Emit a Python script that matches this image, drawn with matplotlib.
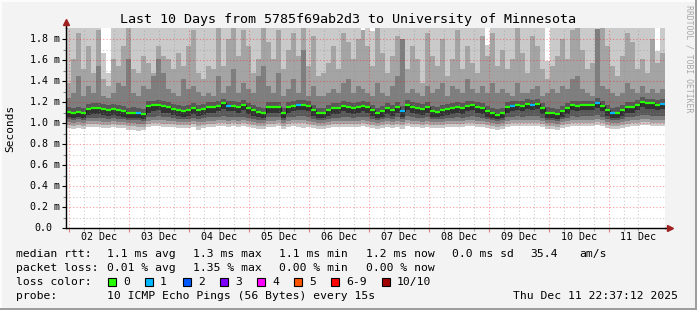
import numpy as np
import matplotlib.pyplot as plt
from matplotlib.patches import Rectangle
from matplotlib.lines import Line2D
from matplotlib.transforms import blended_transform_factory

plt.rcParams['font.family'] = ['DejaVu Sans Mono']

# time span in hours since Dec 1 00:00 (Dec 1 22:37:12 -> Dec 11 22:37:12), 2h steps
t_start = 22 + 37 / 60 + 12 / 3600
t_end = t_start + 240

# median rtt (ms) per 2h step
median = [
    1.105, 1.092, 1.105, 1.092, 1.130, 1.146, 1.140, 1.130, 1.120, 1.135,
    1.120, 1.110, 1.095, 1.100, 1.092, 1.083, 1.160, 1.168, 1.175, 1.160,
    1.150, 1.130, 1.120, 1.110, 1.120, 1.140, 1.120, 1.130, 1.150, 1.150,
    1.162, 1.187, 1.162, 1.162, 1.156, 1.170, 1.140, 1.120, 1.105, 1.092,
    1.156, 1.149, 1.156, 1.092, 1.156, 1.162, 1.175, 1.175, 1.162, 1.120,
    1.092, 1.092, 1.120, 1.143, 1.140, 1.162, 1.149, 1.143, 1.156, 1.162,
    1.156, 1.120, 1.092, 1.110, 1.140, 1.120, 1.149, 1.110, 1.175, 1.156,
    1.143, 1.130, 1.149, 1.110, 1.105, 1.120, 1.130, 1.143, 1.156, 1.143,
    1.162, 1.168, 1.149, 1.143, 1.110, 1.092, 1.080, 1.092, 1.149, 1.162,
    1.168, 1.162, 1.180, 1.175, 1.180, 1.143, 1.100, 1.092, 1.086, 1.110,
    1.143, 1.168, 1.162, 1.168, 1.168, 1.168, 1.190, 1.162, 1.120, 1.092,
    1.100, 1.120, 1.156, 1.156, 1.175, 1.200, 1.187, 1.187, 1.175, 1.180,
]

# sorted ping smoke (ms): p10 = slowest ... p1 = fastest
p10 = [
    1.95, 1.95, 1.95, 1.95, 1.95, 1.95, 1.95, 1.67, 1.48, 1.95,
    1.95, 1.95, 1.95, 1.95, 1.95, 1.95, 1.95, 1.95, 1.95, 1.95,
    1.95, 1.95, 1.95, 1.95, 1.95, 1.95, 1.95, 1.95, 1.95, 1.95,
    1.95, 1.95, 1.95, 1.95, 1.95, 1.95, 1.95, 1.95, 1.95, 1.95,
    1.95, 1.95, 1.95, 1.95, 1.95, 1.95, 1.95, 1.95, 1.95, 1.95,
    1.95, 1.95, 1.95, 1.95, 1.95, 1.95, 1.95, 1.95, 1.95, 1.89,
    1.95, 1.88, 1.95, 1.95, 1.95, 1.95, 1.95, 1.95, 1.95, 1.95,
    1.95, 1.95, 1.95, 1.95, 1.95, 1.95, 1.95, 1.95, 1.95, 1.95,
    1.95, 1.95, 1.95, 1.95, 1.74, 1.95, 1.95, 1.95, 1.95, 1.95,
    1.95, 1.95, 1.95, 1.95, 1.95, 1.95, 1.59, 1.95, 1.95, 1.95,
    1.95, 1.95, 1.95, 1.95, 1.95, 1.95, 1.95, 1.95, 1.95, 1.95,
    1.95, 1.95, 1.95, 1.95, 1.95, 1.95, 1.95, 1.95, 1.69, 1.95,
]
p9 = [
    1.38, 1.61, 1.86, 1.51, 1.73, 1.48, 1.89, 1.42, 1.35, 1.61,
    1.54, 1.73, 1.95, 1.51, 1.48, 1.64, 1.57, 1.48, 1.73, 1.64,
    1.61, 1.51, 1.67, 1.54, 1.73, 1.89, 1.48, 1.42, 1.54, 1.51,
    1.95, 1.54, 1.80, 1.95, 1.64, 1.89, 1.73, 1.48, 1.61, 1.95,
    1.77, 1.61, 1.89, 1.51, 1.70, 1.86, 1.64, 1.95, 1.54, 1.83,
    1.45, 1.48, 1.57, 1.73, 1.51, 1.86, 1.77, 1.61, 1.80, 1.89,
    1.73, 1.54, 1.95, 1.67, 1.48, 1.64, 1.83, 1.57, 1.51, 1.73,
    1.61, 1.38, 1.86, 1.64, 1.54, 1.80, 1.45, 1.61, 1.89, 1.51,
    1.73, 1.57, 1.48, 1.83, 1.64, 1.86, 1.54, 1.70, 1.51, 1.61,
    1.95, 1.67, 1.48, 1.83, 1.73, 1.51, 1.42, 1.54, 1.64, 1.80,
    1.61, 1.89, 1.95, 1.70, 1.51, 1.57, 1.83, 1.95, 1.73, 1.54,
    1.45, 1.64, 1.86, 1.77, 1.51, 1.61, 1.48, 1.80, 1.57, 1.67,
]
p8 = [
    1.24, 1.29, 1.45, 1.26, 1.35, 1.29, 1.54, 1.26, 1.24, 1.29,
    1.38, 1.35, 1.61, 1.29, 1.26, 1.35, 1.32, 1.45, 1.61, 1.48,
    1.32, 1.29, 1.26, 1.42, 1.32, 1.35, 1.30, 1.26, 1.29, 1.26,
    1.45, 1.29, 1.35, 1.51, 1.29, 1.38, 1.32, 1.29, 1.45, 1.54,
    1.35, 1.29, 1.48, 1.26, 1.32, 1.42, 1.29, 1.70, 1.26, 1.35,
    1.26, 1.26, 1.29, 1.32, 1.29, 1.38, 1.42, 1.29, 1.35, 1.32,
    1.29, 1.26, 1.38, 1.29, 1.26, 1.35, 1.45, 1.80, 1.29, 1.32,
    1.29, 1.26, 1.35, 1.29, 1.32, 1.38, 1.26, 1.35, 1.32, 1.29,
    1.42, 1.32, 1.29, 1.35, 1.29, 1.38, 1.29, 1.32, 1.29, 1.26,
    1.38, 1.29, 1.29, 1.32, 1.35, 1.26, 1.29, 1.32, 1.29, 1.35,
    1.32, 1.42, 1.45, 1.32, 1.29, 1.26, 1.90, 1.35, 1.32, 1.29,
    1.26, 1.29, 1.38, 1.32, 1.29, 1.35, 1.29, 1.32, 1.29, 1.32,
]
p7 = [
    1.15, 1.14, 1.15, 1.14, 1.18, 1.19, 1.19, 1.18, 1.17, 1.18,
    1.17, 1.16, 1.14, 1.15, 1.14, 1.13, 1.21, 1.21, 1.22, 1.21,
    1.20, 1.18, 1.17, 1.16, 1.17, 1.19, 1.17, 1.18, 1.20, 1.20,
    1.21, 1.23, 1.21, 1.21, 1.20, 1.22, 1.19, 1.17, 1.15, 1.14,
    1.20, 1.20, 1.20, 1.14, 1.20, 1.21, 1.22, 1.22, 1.21, 1.17,
    1.14, 1.14, 1.17, 1.19, 1.19, 1.21, 1.20, 1.19, 1.20, 1.21,
    1.20, 1.17, 1.14, 1.16, 1.19, 1.17, 1.20, 1.16, 1.22, 1.20,
    1.19, 1.18, 1.20, 1.16, 1.15, 1.17, 1.18, 1.19, 1.20, 1.19,
    1.21, 1.21, 1.20, 1.19, 1.16, 1.14, 1.13, 1.14, 1.20, 1.21,
    1.21, 1.21, 1.23, 1.22, 1.23, 1.19, 1.15, 1.14, 1.13, 1.16,
    1.19, 1.21, 1.21, 1.21, 1.21, 1.21, 1.24, 1.21, 1.17, 1.14,
    1.15, 1.17, 1.20, 1.20, 1.22, 1.25, 1.23, 1.23, 1.22, 1.23,
]
p5 = [
    1.06, 1.05, 1.06, 1.05, 1.08, 1.09, 1.09, 1.08, 1.07, 1.08,
    1.07, 1.06, 1.05, 1.05, 1.05, 1.04, 1.10, 1.11, 1.12, 1.10,
    1.10, 1.08, 1.07, 1.06, 1.07, 1.09, 1.07, 1.08, 1.10, 1.10,
    1.11, 1.13, 1.11, 1.11, 1.10, 1.12, 1.09, 1.07, 1.06, 1.05,
    1.10, 1.10, 1.10, 1.05, 1.10, 1.11, 1.12, 1.12, 1.11, 1.07,
    1.05, 1.05, 1.07, 1.09, 1.09, 1.11, 1.10, 1.09, 1.10, 1.11,
    1.10, 1.07, 1.05, 1.06, 1.09, 1.07, 1.10, 1.06, 1.12, 1.10,
    1.09, 1.08, 1.10, 1.06, 1.06, 1.07, 1.08, 1.09, 1.10, 1.09,
    1.11, 1.12, 1.10, 1.09, 1.06, 1.05, 1.04, 1.05, 1.10, 1.11,
    1.12, 1.11, 1.13, 1.12, 1.13, 1.09, 1.05, 1.05, 1.04, 1.06,
    1.09, 1.12, 1.11, 1.12, 1.12, 1.12, 1.14, 1.11, 1.07, 1.05,
    1.05, 1.07, 1.10, 1.10, 1.12, 1.15, 1.13, 1.13, 1.12, 1.13,
]
p4 = [
    1.04, 1.03, 1.04, 1.03, 1.05, 1.05, 1.05, 1.05, 1.04, 1.05,
    1.04, 1.04, 1.03, 1.03, 1.03, 1.02, 1.06, 1.06, 1.07, 1.06,
    1.06, 1.05, 1.04, 1.04, 1.04, 1.05, 1.04, 1.05, 1.06, 1.06,
    1.06, 1.07, 1.06, 1.06, 1.06, 1.06, 1.05, 1.04, 1.03, 1.03,
    1.06, 1.06, 1.06, 1.03, 1.06, 1.06, 1.07, 1.07, 1.06, 1.04,
    1.03, 1.03, 1.04, 1.05, 1.05, 1.06, 1.06, 1.05, 1.06, 1.06,
    1.06, 1.04, 1.03, 1.04, 1.05, 1.04, 1.06, 1.04, 1.07, 1.06,
    1.05, 1.05, 1.06, 1.04, 1.04, 1.04, 1.05, 1.05, 1.06, 1.05,
    1.06, 1.07, 1.06, 1.05, 1.04, 1.03, 1.02, 1.03, 1.06, 1.06,
    1.07, 1.06, 1.07, 1.07, 1.07, 1.05, 1.03, 1.03, 1.02, 1.04,
    1.05, 1.07, 1.06, 1.07, 1.07, 1.07, 1.08, 1.06, 1.04, 1.03,
    1.03, 1.04, 1.06, 1.06, 1.07, 1.08, 1.08, 1.07, 1.07, 1.07,
]
p3 = [
    1.01, 1.00, 1.01, 1.00, 1.02, 1.02, 1.02, 1.01, 1.01, 1.02,
    1.01, 1.01, 1.00, 1.00, 0.99, 0.99, 1.02, 1.03, 1.03, 1.03,
    1.02, 1.02, 1.01, 1.01, 1.01, 1.02, 1.01, 1.01, 1.02, 1.02,
    1.03, 1.03, 1.02, 1.03, 1.02, 1.03, 1.02, 1.01, 1.00, 1.00,
    1.02, 1.02, 1.03, 1.00, 1.02, 1.03, 1.03, 1.03, 1.02, 1.01,
    1.00, 1.00, 1.01, 1.02, 1.02, 1.02, 1.02, 1.02, 1.02, 1.03,
    1.02, 1.01, 1.00, 1.01, 1.02, 1.01, 1.02, 1.01, 1.03, 1.02,
    1.02, 1.01, 1.02, 1.01, 1.01, 1.01, 1.02, 1.02, 1.02, 1.02,
    1.03, 1.03, 1.02, 1.02, 1.01, 1.00, 0.99, 1.00, 1.02, 1.03,
    1.03, 1.03, 1.03, 1.03, 1.03, 1.02, 1.00, 1.00, 0.99, 1.01,
    1.02, 1.03, 1.03, 1.03, 1.03, 1.03, 1.04, 1.03, 1.01, 1.00,
    1.00, 1.01, 1.02, 1.03, 1.03, 1.04, 1.04, 1.03, 1.03, 1.03,
]
p2 = [
    0.98, 0.97, 0.98, 0.97, 0.99, 0.99, 0.99, 0.98, 0.98, 0.99,
    0.98, 0.98, 0.97, 0.97, 0.96, 0.96, 0.99, 1.00, 1.00, 0.99,
    0.99, 0.99, 0.98, 0.98, 0.98, 0.99, 0.97, 0.98, 0.99, 0.99,
    1.00, 1.00, 0.99, 1.00, 0.99, 1.00, 0.99, 0.98, 0.97, 0.97,
    0.99, 0.99, 1.00, 0.97, 0.99, 1.00, 1.00, 1.00, 0.99, 0.98,
    0.97, 0.97, 0.98, 0.99, 0.99, 0.99, 0.99, 0.99, 0.99, 1.00,
    0.99, 0.98, 0.97, 0.98, 0.99, 0.98, 0.99, 0.98, 1.00, 0.99,
    0.99, 0.98, 0.99, 0.98, 0.98, 0.98, 0.99, 0.99, 0.99, 0.99,
    1.00, 1.00, 0.99, 0.99, 0.98, 0.97, 0.96, 0.97, 0.99, 1.00,
    1.00, 1.00, 1.00, 1.00, 1.00, 0.99, 0.97, 0.97, 0.96, 0.98,
    0.99, 1.00, 1.00, 1.00, 1.00, 1.00, 1.01, 1.00, 0.98, 0.97,
    0.97, 0.98, 0.99, 1.00, 1.00, 1.01, 1.01, 1.00, 1.00, 1.00,
]
p1 = [
    0.95, 0.94, 0.95, 0.94, 0.96, 0.96, 0.96, 0.95, 0.95, 0.96,
    0.95, 0.95, 0.93, 0.93, 0.92, 0.93, 0.96, 0.97, 0.97, 0.96,
    0.96, 0.96, 0.95, 0.95, 0.95, 0.96, 0.93, 0.95, 0.96, 0.96,
    0.97, 0.97, 0.96, 0.97, 0.96, 0.97, 0.96, 0.95, 0.94, 0.94,
    0.96, 0.96, 0.97, 0.94, 0.96, 0.97, 0.96, 0.95, 0.96, 0.95,
    0.94, 0.94, 0.95, 0.96, 0.96, 0.96, 0.96, 0.96, 0.96, 0.97,
    0.96, 0.95, 0.94, 0.95, 0.96, 0.95, 0.96, 0.94, 0.97, 0.96,
    0.96, 0.95, 0.96, 0.95, 0.95, 0.95, 0.96, 0.96, 0.96, 0.96,
    0.97, 0.97, 0.96, 0.96, 0.95, 0.94, 0.93, 0.94, 0.96, 0.97,
    0.97, 0.97, 0.97, 0.97, 0.97, 0.96, 0.94, 0.94, 0.93, 0.95,
    0.96, 0.97, 0.97, 0.97, 0.97, 0.97, 0.98, 0.97, 0.95, 0.94,
    0.94, 0.95, 0.96, 0.97, 0.97, 0.98, 0.98, 0.97, 0.97, 0.97,
]
# steps where 1 of 10 pings was lost
loss_one_slots = [14, 32, 46, 67, 89, 93, 106, 109, 119]

day_labels = ['02 Dec', '03 Dec', '04 Dec', '05 Dec', '06 Dec',
              '07 Dec', '08 Dec', '09 Dec', '10 Dec', '11 Dec']
y_ticks = [0.0, 0.2, 0.4, 0.6, 0.8, 1.0, 1.2, 1.4, 1.6, 1.8]
y_tick_labels = ['0.0', '0.2 m', '0.4 m', '0.6 m', '0.8 m',
                 '1.0 m', '1.2 m', '1.4 m', '1.6 m', '1.8 m']

loss_labels = ['0', '1', '2', '3', '4', '5', '6-9', '10/10']
loss_colors = ['#26ff00', '#00b8ff', '#0059ff', '#7e00ff',
               '#ff00ff', '#ff5500', '#ff0000', '#a10000']
loss_x = [108, 145, 183, 220, 257, 294, 331, 382]

title = 'Last 10 Days from 5785f69ab2d3 to University of Minnesota'

W, H = 697, 310
fig = plt.figure(figsize=(W / 100, H / 100), dpi=100, facecolor='#f3f3f3')
ax = fig.add_axes([66 / W, 1 - 228 / H, 599 / W, 200 / H])
ax.set_facecolor('white')

edges = np.linspace(t_start, t_end, len(median) + 1)

# smoke: outermost pair lightest, inner pairs darker
layers = [(p1, p10, '#cacaca'), (p2, p9, '#a4a4a4'), (p3, p8, '#7e7e7e'),
          (p4, p7, '#585858'), (p5, median, '#323232')]
for lo, hi, c in layers:
    ax.stairs(hi, edges, baseline=lo, fill=True, color=c, lw=0, zorder=1)

# median line: thin dark step line plus loss-coloured segments
ax.stairs(median, edges, baseline=None, color='#202020', lw=0.8, zorder=3)
seg_colors = [loss_colors[1] if i in loss_one_slots else loss_colors[0]
              for i in range(len(median))]
ax.hlines(median, edges[:-1], edges[1:], colors=seg_colors, lw=1.6, zorder=4)

ax.set_xlim(t_start, t_end)
ax.set_ylim(0, 1.905)
ax.set_xticks(np.arange(24, 241, 24))
ax.set_xticks(np.arange(24, 258, 6), minor=True)
ax.set_yticks(y_ticks)
ax.set_yticks(np.arange(0.1, 1.9, 0.2), minor=True)
ax.set_axisbelow(False)
ax.grid(which='minor', color='#8f8f8f', alpha=0.45, ls=(0, (1, 2)), lw=0.8)
ax.grid(which='major', color='#ff0000', alpha=0.4, ls=(0, (1, 2)), lw=0.8)
ax.tick_params(which='both', labelbottom=False, labelleft=False)
ax.tick_params(axis='y', which='major', length=3, color='black', width=0.8)
ax.tick_params(axis='y', which='minor', length=2, color='#888888', width=0.8)
ax.tick_params(axis='x', which='major', length=3, color='#e08080', width=0.8)
ax.tick_params(axis='x', which='minor', length=2, color='#aaaaaa', width=0.8)
for s in ('top', 'right'):
    ax.spines[s].set_visible(False)
for s in ('left', 'bottom'):
    ax.spines[s].set_color('black')
    ax.spines[s].set_linewidth(1)
    ax.spines[s].set_zorder(5)

# axis arrows
ax.add_line(Line2D([0, 0], [1, 1.03], transform=ax.transAxes, color='black',
                   lw=1, clip_on=False))
ax.plot([0], [1.03], marker='^', ms=4, color='#a02020', transform=ax.transAxes,
        clip_on=False)
ax.add_line(Line2D([1, 1.006], [0, 0], transform=ax.transAxes, color='black',
                   lw=1, clip_on=False))
ax.plot([1.008], [0], marker='>', ms=4, color='#a02020', transform=ax.transAxes,
        clip_on=False)

# tick labels
ty = blended_transform_factory(ax.transAxes, ax.transData)
for v, lbl in zip(y_ticks, y_tick_labels):
    if lbl == '0.0':
        ax.text((43.5 - 66) / 599, v, lbl, transform=ty, ha='center',
                va='center', fontsize=7.2)
    else:
        ax.text((60.5 - 66) / 599, v, lbl, transform=ty, ha='right',
                va='center', fontsize=7.2)
tx = blended_transform_factory(ax.transData, ax.transAxes)
for i, lbl in enumerate(day_labels):
    ax.text(36 + 24 * i, -0.046, lbl, transform=tx, ha='center', va='center',
            fontsize=7.2)

fig.text(348 / W, 1 - 19 / H, title, ha='center', va='center', fontsize=9.6)
fig.text(10 / W, 1 - 128 / H, 'Seconds', rotation=90, ha='center',
         va='center', fontsize=8)
fig.text(689 / W, 1 - 5 / H, 'RRDTOOL / TOBI OETIKER', rotation=270,
         ha='center', va='top', fontsize=5.9, color='#a8a8a8')

# legend block
def legend_text(x, y, s):
    fig.text(x / W, 1 - y / H, s, ha='left', va='center', fontsize=8.2)

legend_text(16, 254, 'median rtt:')
for x, s in [(107, '1.1 ms avg'), (193, '1.3 ms max'), (279, '1.1 ms min'),
             (366, '1.2 ms now'), (452, '0.0 ms sd'), (530, '35.4'),
             (579, 'am/s')]:
    legend_text(x, 254, s)
legend_text(16, 268, 'packet loss:')
for x, s in [(107, '0.01 % avg'), (193, '1.35 % max'), (279, '0.00 % min'),
             (366, '0.00 % now')]:
    legend_text(x, 268, s)
legend_text(16, 282, 'loss color:')
for x, c, s in zip(loss_x, loss_colors, loss_labels):
    fig.add_artist(Rectangle((x / W, 1 - 286 / H), 8 / W, 8 / H,
                             transform=fig.transFigure, facecolor=c,
                             edgecolor='black', lw=0.8))
    legend_text(x + 15, 282, s)
legend_text(16, 296, 'probe:')
legend_text(107, 296, '10 ICMP Echo Pings (56 Bytes) every 15s')
legend_text(513, 296, 'Thu Dec 11 22:37:12 2025')

# frame shading
fig.add_artist(Rectangle((0, 0), 2 / W, 1, transform=fig.transFigure,
                         facecolor='#fcfcfc', lw=0))
fig.add_artist(Rectangle((0, 1 - 2 / H), 1, 2 / H, transform=fig.transFigure,
                         facecolor='#fcfcfc', lw=0))
fig.add_artist(Rectangle((1 - 2 / W, 0), 2 / W, 1, transform=fig.transFigure,
                         facecolor='#9e9e9e', lw=0))
fig.add_artist(Rectangle((0, 0), 1, 2 / H, transform=fig.transFigure,
                         facecolor='#9e9e9e', lw=0))

fig.savefig('out.png', dpi=100, facecolor=fig.get_facecolor())
